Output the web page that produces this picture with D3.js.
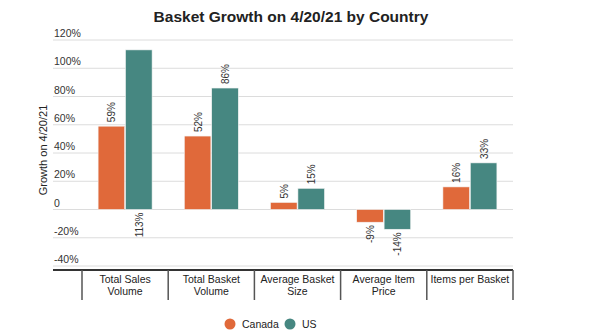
<!DOCTYPE html>
<html>
<head>
<meta charset="utf-8">
<script src="https://cdn.jsdelivr.net/npm/d3@7"></script>
<style>
  body { margin: 0; background: #fff; }
  text { font-family: "Liberation Sans", Arial, sans-serif; fill: #222; }
</style>
</head>
<body>
<svg id="chart"></svg>
<script>
// Growth values per metric, in percent
const categories = ["Total Sales Volume", "Total Basket Volume", "Average Basket Size", "Average Item Price", "Items per Basket"];
const categoryLines = [["Total Sales", "Volume"], ["Total Basket", "Volume"], ["Average Basket", "Size"], ["Average Item", "Price"], ["Items per Basket"]];
const series = ["Canada", "US"];
const canada = [59, 52, 5, -9, 16];
const us = [113, 86, 15, -14, 33];
const yTicks = [-40, -20, 0, 20, 40, 60, 80, 100, 120];

const width = 600, height = 335;
const plotLeft = 53, bandLeft = 82, plotRight = 513;

const svg = d3.select("#chart")
    .attr("width", width)
    .attr("height", height);

const color = d3.scaleOrdinal()
    .domain(series)
    .range(["#E0693A", "#468781"]);

const data = categories.map((c, i) => ({category: c, values: [
    {key: "Canada", value: canada[i]},
    {key: "US", value: us[i]}
]}));

// Scales
const x0 = d3.scaleBand()
    .domain(categories)
    .range([bandLeft, plotRight]);

const pairWidth = 54;
const x1 = d3.scaleBand()
    .domain(series)
    .range([0, pairWidth])
    .paddingInner(0.03);

const y = d3.scaleLinear()
    .domain([-40, 120])
    .range([266, 40]);

// Title
svg.append("text")
    .attr("x", 291)
    .attr("y", 22)
    .attr("text-anchor", "middle")
    .style("font-size", "15.5px")
    .style("font-weight", "bold")
    .text("Basket Growth on 4/20/21 by Country");

// Gridlines and tick labels
const grid = svg.append("g");
grid.selectAll("line")
    .data(yTicks)
    .enter()
    .append("line")
    .attr("x1", plotLeft)
    .attr("x2", plotRight)
    .attr("y1", d => y(d))
    .attr("y2", d => y(d))
    .attr("stroke", "#dcdcdc")
    .attr("stroke-width", 1);

grid.selectAll("text")
    .data(yTicks)
    .enter()
    .append("text")
    .attr("x", plotLeft + 1)
    .attr("y", d => y(d) - 3)
    .style("font-size", "10.5px")
    .style("fill", "#333")
    .text(d => d === 0 ? "0" : d + "%");

// Y axis title
svg.append("text")
    .attr("text-anchor", "middle")
    .attr("transform", `translate(47, 150) rotate(-90)`)
    .style("font-size", "11px")
    .text("Growth on 4/20/21");

// Bars
const groups = svg.selectAll(".group")
    .data(data)
    .enter()
    .append("g")
    .attr("transform", d => `translate(${x0(d.category) + (x0.bandwidth() - pairWidth) / 2},0)`);

groups.selectAll("rect")
    .data(d => d.values)
    .enter()
    .append("rect")
    .attr("x", d => x1(d.key))
    .attr("y", d => y(Math.max(0, d.value)))
    .attr("width", x1.bandwidth())
    .attr("height", d => Math.abs(y(d.value) - y(0)))
    .attr("fill", d => color(d.key))
    .attr("stroke", "#f4f4f4")
    .attr("stroke-width", 0.6);

// Value labels, rotated; the tallest bar gets its label below the zero line
groups.selectAll(".val")
    .data(d => d.values)
    .enter()
    .append("text")
    .attr("class", "val")
    .attr("transform", d => {
        const cx = x1(d.key) + x1.bandwidth() / 2 + 4;
        let ty;
        if (d.value > 100) ty = y(0) + 3;
        else if (d.value >= 0) ty = y(d.value) - 4;
        else ty = y(d.value) + 3;
        return `translate(${cx},${ty}) rotate(-90)`;
    })
    .attr("text-anchor", d => d.value >= 0 && d.value <= 100 ? "start" : "end")
    .style("font-size", "10px")
    .style("fill", "#333")
    .text(d => d.value + "%");

// Category axis
svg.append("line")
    .attr("x1", plotLeft)
    .attr("x2", plotRight)
    .attr("y1", 270)
    .attr("y2", 270)
    .attr("stroke", "#333")
    .attr("stroke-width", 2);

const edges = categories.map(c => x0(c)).concat([plotRight]);
svg.selectAll(".sep")
    .data(edges)
    .enter()
    .append("line")
    .attr("x1", d => d)
    .attr("x2", d => d)
    .attr("y1", 270)
    .attr("y2", 300)
    .attr("stroke", "#555")
    .attr("stroke-width", 1.5);

svg.selectAll(".cat")
    .data(categories)
    .enter()
    .append("text")
    .attr("text-anchor", "middle")
    .attr("x", d => x0(d) + x0.bandwidth() / 2)
    .attr("y", 283)
    .style("font-size", "10.5px")
    .selectAll("tspan")
    .data((d, i) => categoryLines[i])
    .enter()
    .append("tspan")
    .attr("x", function() { return this.parentNode.getAttribute("x"); })
    .attr("dy", (d, i) => i === 0 ? 0 : 12)
    .text(d => d);

// Legend
const legendX = [230, 290];
const legend = svg.selectAll(".legend")
    .data(series)
    .enter()
    .append("g")
    .attr("transform", (d, i) => `translate(${legendX[i]},324)`);

legend.append("circle")
    .attr("r", 5.5)
    .attr("fill", color);

legend.append("text")
    .attr("x", 12)
    .attr("y", 4)
    .style("font-size", "10.5px")
    .text(d => d);
</script>
</body>
</html>
